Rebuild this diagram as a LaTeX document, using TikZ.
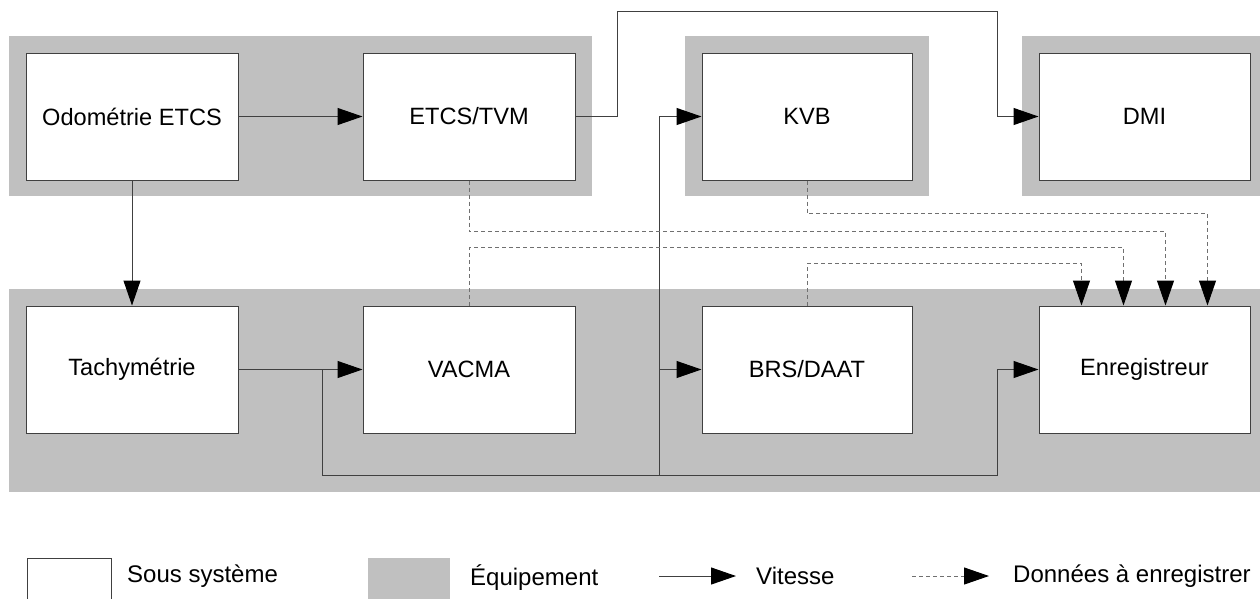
\documentclass[tikz,border=0pt]{standalone}
\usepackage{fontspec}
\setmainfont{Liberation Sans}
\usetikzlibrary{arrows.meta}
\definecolor{equip}{RGB}{192,192,192}
\definecolor{trait}{RGB}{64,64,64}
\definecolor{tiret}{RGB}{112,112,112}
\tikzset{
	sys/.style={draw=trait, line width=1pt, fill=white, minimum width=212pt, minimum height=127pt, inner sep=0pt, font=\fontsize{23.6}{28}\selectfont},
	pointe/.style={-{Triangle[length=25pt,width=17pt,color=black,fill=black]}},
	vit/.style={draw=trait, line width=1pt, pointe},
	don/.style={draw=tiret, line width=1pt, dash pattern=on 4pt off 3pt, pointe},
	leg/.style={anchor=west, inner sep=0pt, font=\fontsize{24}{28}\selectfont}
}
\begin{document}
\begin{tikzpicture}[x=1pt, y=-1pt]
		    \useasboundingbox (0,0) rectangle (1260,598);
		    
		    \fill [equip] (9,36) rectangle (592,196);
		    \fill [equip] (685,36) rectangle (929,196);
		    \fill [equip] (1022,36) rectangle (1260,196);
		    \fill [equip] (9,289) rectangle (1260,492);
		    
		    \node [sys] (OD) at (132,116.5) {Odométrie ETCS};
		    \node [sys] (ET) at (469,116.5) {ETCS/TVM};
		    \node [sys, minimum width=210pt] (KV) at (807,116.5) {KVB};
		    \node [sys, minimum width=211pt] (DM) at (1144.5,116.5) {DMI};
		    
		    \node [sys] (TA) at (132,369.5) {Tachymétrie};
		    \node [sys] (VA) at (469,369.5) {VACMA};
		    \node [sys, minimum width=210pt] (BR) at (807,369.5) {BRS/DAAT};
		    \node [sys, minimum width=211pt] (EN) at (1144.5,369.5) {Enregistreur};
		    
		    \coordinate (JA) at (322,369.5);
		    \coordinate (JB) at (659,475);
		    \coordinate (EA) at ([xshift=-63pt]EN.north);
		    \coordinate (EB) at ([xshift=-21pt]EN.north);
		    \coordinate (EC) at ([xshift=21pt]EN.north);
		    \coordinate (ED) at ([xshift=63pt]EN.north);
		    
			\draw [vit] (OD) -- (ET);
			\draw [vit] (OD) -- (TA);
			\draw [vit] (ET.east) -- ++(42,0) |- (997,11) |- (DM.west);
			\draw [vit] (TA) -- (VA);
			\draw [vit] (JA) |- (997,475) |- (EN.west);
			\draw [vit] (JB) |- (KV.west);
			\draw [vit] (JB |- BR.west) -- (BR.west);
			
			\draw [don] (ET.south) -- ++(0,51) -| (EC);
			\draw [don] (VA.north) -- ++(0,-58) -| (EB);
			\draw [don] (KV.south) -- ++(0,33) -| (ED);
			\draw [don] (BR.north) -- ++(0,-42) -| (EA);
			
			\node [sys, minimum width=84pt, minimum height=42pt, anchor=north west] (LS) at (27,558) {};
			\node [leg] at (127,576) {Sous système};
			\fill [equip] (368,558) rectangle (450,600);
			\node [leg] at (470,578) {Équipement};
			\coordinate (LA) at (659,576);
			\coordinate (LB) at (736,576);
			\draw [vit] (LA) -- (LB);
			\node [leg] at (756,576) {Vitesse};
			\coordinate (LC) at (912,576);
			\coordinate (LD) at (989,576);
			\draw [don] (LC) -- (LD);
			\node [leg] at (1013,576) {Données à enregistrer};
\end{tikzpicture}
\end{document}
